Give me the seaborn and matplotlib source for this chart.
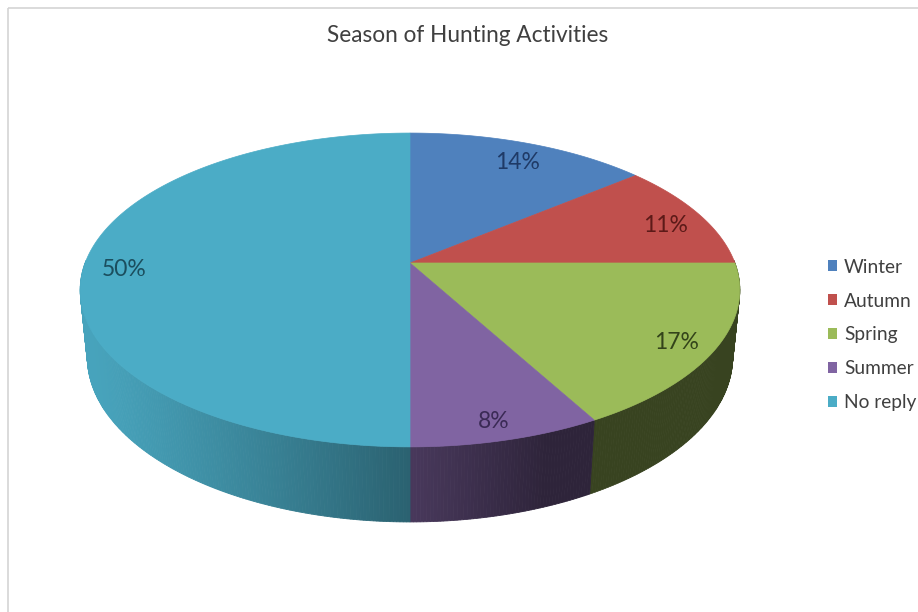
import numpy as np
import matplotlib
matplotlib.use("Agg")
import matplotlib.pyplot as plt
from matplotlib.patches import Polygon, Rectangle
import seaborn as sns

# ---- data ----
seasons = ["Winter", "Autumn", "Spring", "Summer", "No reply"]
shares = [14, 11, 17, 8, 50]
colors = ["#4F81BD", "#C0504D", "#9BBB59", "#8064A2", "#4BACC6"]
label_colors = ["#1F3A66", "#5C1A18", "#33431A", "#3A2A55", "#1B4E5E"]
title = "Season of Hunting Activities"

sns.set_theme(style="white")
plt.rcParams["font.family"] = ["Lato", "DejaVu Sans"]

W, H, DPI = 918, 612, 100
fig = plt.figure(figsize=(W / DPI, H / DPI), dpi=DPI)
ax = fig.add_axes([0, 0, 1, 1])
ax.set_xlim(0, W)
ax.set_ylim(H, 0)
ax.set_axis_off()

# chart frame (top and left edges visible)
ax.add_patch(Rectangle((8, 8), W + 20, H + 20, fill=False,
                       edgecolor="#D4D4D4", linewidth=1.2))

# ---- 3D pie projection settings ----
cx, cy = 410.0, 263.0          # screen position of the pie centre
elev = np.deg2rad(27.95)       # viewing elevation
ce, se = np.cos(elev), np.sin(elev)
dist = 5.14                    # camera distance (disk radius = 1)
focal = 1670.0
thick = 0.236                  # disk thickness


def project(theta, r=1.0, z=0.0):
    u = r * np.cos(theta)
    v = r * np.sin(theta)
    depth = dist + v * ce - z * se
    X = focal * u / depth
    Y = focal * (v * se + z * ce) / depth
    return cx + X, cy - Y


# slice angles: start at 12 o'clock, clockwise
fracs = np.array(shares, dtype=float) / np.sum(shares)
bounds = np.pi / 2 - 2 * np.pi * np.concatenate([[0], np.cumsum(fracs)])

# lighting for side walls
light = np.array([-0.8, -0.3])
ambient, diffuse = 0.36, 0.69


def shade(hex_color, theta):
    rgb = np.array(matplotlib.colors.to_rgb(hex_color))
    n = np.array([np.cos(theta), np.sin(theta)])
    b = ambient + diffuse * max(0.0, float(n @ light))
    return np.clip(rgb * b, 0, 1)


# ---- side walls (front half), drawn far to near ----
quads = []
for i in range(len(shares)):
    a0, a1 = bounds[i], bounds[i + 1]
    steps = max(4, int(abs(a1 - a0) / np.deg2rad(0.5)))
    ts = np.linspace(a0, a1, steps + 1)
    for t0, t1 in zip(ts[:-1], ts[1:]):
        tm = 0.5 * (t0 + t1)
        if np.sin(tm) > 0.02:
            continue
        p = [project(t0), project(t1), project(t1, z=-thick), project(t0, z=-thick)]
        depth = dist + np.sin(tm) * ce
        quads.append((depth, p, shade(colors[i], tm)))

quads.sort(key=lambda q: -q[0])
for _, p, col in quads:
    ax.add_patch(Polygon(p, closed=True, facecolor=col, edgecolor=col,
                         linewidth=0.6, zorder=2))

# ---- top face ----
for i in range(len(shares)):
    ts = np.linspace(bounds[i], bounds[i + 1], 200)
    xs, ys = project(ts)
    pts = np.column_stack([np.r_[cx, xs], np.r_[cy, ys]])
    ax.add_patch(Polygon(pts, closed=True, facecolor=colors[i],
                         edgecolor=colors[i], linewidth=0.5, zorder=3))

# ---- value labels ----
for i, val in enumerate(shares):
    mid = 0.5 * (bounds[i] + bounds[i + 1])
    lx, ly = project(mid, r=0.88)
    ax.text(lx, ly + 6, f"{val}%", ha="center", va="center", fontsize=16.5,
            color=label_colors[i], zorder=5)

# ---- title ----
ax.text(468, 36, title, ha="center", va="center", fontsize=16.3,
        color="#404040")

# ---- legend ----
handles = [Rectangle((0, 0), 1, 1, facecolor=c, edgecolor="none") for c in colors]
leg = ax.legend(handles, seasons, loc="upper left",
                bbox_to_anchor=(820 / W, 1 - 251 / H), frameon=False,
                fontsize=13.8, handlelength=0.5, handleheight=0.5,
                handletextpad=0.35, labelspacing=0.88, borderaxespad=0)
for t in leg.get_texts():
    t.set_color("#404040")

fig.savefig("out.png", dpi=DPI)
